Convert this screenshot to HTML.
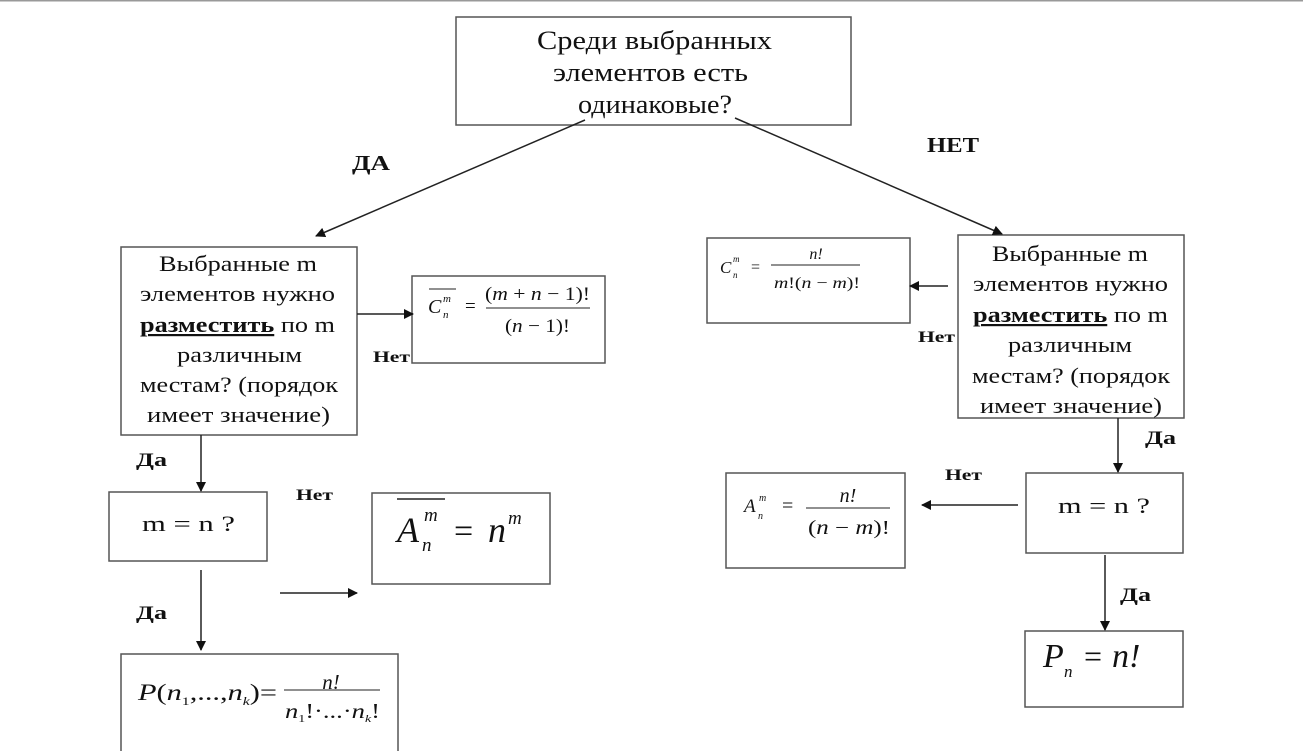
<!DOCTYPE html>
<html><head><meta charset="utf-8"><style>
html,body{margin:0;padding:0;background:#fff;}
svg{display:block;}
text{font-family:"Liberation Serif","DejaVu Serif",serif;fill:#111;}
.it{font-style:italic;}
</style></head><body>
<svg width="1303" height="751" viewBox="0 0 1303 751" xmlns="http://www.w3.org/2000/svg">
<defs>
<marker id="ah" markerWidth="10" markerHeight="10" refX="9" refY="5" orient="auto" markerUnits="userSpaceOnUse">
<path d="M0,0 L10,5 L0,10 z" fill="#111"/>
</marker>
</defs>
<rect x="0" y="0" width="1303" height="1.5" fill="#999"/>
<g fill="none" stroke="#555" stroke-width="1.5">
<rect x="456" y="17" width="395" height="108"/>
<rect x="121" y="247" width="236" height="188"/>
<rect x="412" y="276" width="193" height="87"/>
<rect x="109" y="492" width="158" height="69"/>
<rect x="372" y="493" width="178" height="91"/>
<rect x="121" y="654" width="277" height="110"/>
<rect x="707" y="238" width="203" height="85"/>
<rect x="958" y="235" width="226" height="183"/>
<rect x="1026" y="473" width="157" height="80"/>
<rect x="726" y="473" width="179" height="95"/>
<rect x="1025" y="631" width="158" height="76"/>
</g>
<g stroke="#222" stroke-width="1.5" marker-end="url(#ah)">
<line x1="585" y1="120" x2="316" y2="236"/>
<line x1="735" y1="118" x2="1002" y2="234"/>
<line x1="357" y1="314" x2="413" y2="314"/>
<line x1="201" y1="435" x2="201" y2="491"/>
<line x1="280" y1="593" x2="357" y2="593"/>
<line x1="201" y1="570" x2="201" y2="650"/>
<line x1="948" y1="286" x2="910" y2="286"/>
<line x1="1118" y1="418" x2="1118" y2="472"/>
<line x1="1018" y1="505" x2="922" y2="505"/>
<line x1="1105" y1="555" x2="1105" y2="630"/>
</g>
<g font-size="26" lengthAdjust="spacingAndGlyphs">
<text x="537" y="49" textLength="235" lengthAdjust="spacingAndGlyphs">Среди выбранных</text>
<text x="553" y="81" textLength="195" lengthAdjust="spacingAndGlyphs">элементов есть</text>
<text x="578" y="113" textLength="154" lengthAdjust="spacingAndGlyphs">одинаковые?</text>
</g>
<g font-size="22">
<text x="159" y="271" textLength="158" lengthAdjust="spacingAndGlyphs">Выбранные m</text>
<text x="140" y="301" textLength="195" lengthAdjust="spacingAndGlyphs">элементов нужно</text>
<text x="140" y="332" textLength="195" lengthAdjust="spacingAndGlyphs"><tspan font-weight="bold" text-decoration="underline">разместить</tspan> по m</text>
<text x="177" y="362" textLength="125" lengthAdjust="spacingAndGlyphs">различным</text>
<text x="140" y="392" textLength="198" lengthAdjust="spacingAndGlyphs">местам? (порядок</text>
<text x="147" y="422" textLength="183" lengthAdjust="spacingAndGlyphs">имеет значение)</text>
<text x="992" y="261" textLength="156" lengthAdjust="spacingAndGlyphs">Выбранные m</text>
<text x="973" y="291" textLength="195" lengthAdjust="spacingAndGlyphs">элементов нужно</text>
<text x="973" y="322" textLength="195" lengthAdjust="spacingAndGlyphs"><tspan font-weight="bold" text-decoration="underline">разместить</tspan> по m</text>
<text x="1008" y="352" textLength="124" lengthAdjust="spacingAndGlyphs">различным</text>
<text x="972" y="383" textLength="198" lengthAdjust="spacingAndGlyphs">местам? (порядок</text>
<text x="980" y="413" textLength="182" lengthAdjust="spacingAndGlyphs">имеет значение)</text>
<text x="142" y="531" textLength="93" lengthAdjust="spacingAndGlyphs">m = n ?</text>
<text x="1058" y="513" textLength="92" lengthAdjust="spacingAndGlyphs">m = n ?</text>
</g>
<g font-weight="bold">
<text x="352" y="170" font-size="21" textLength="38" lengthAdjust="spacingAndGlyphs">ДА</text>
<text x="927" y="152" font-size="21" textLength="52" lengthAdjust="spacingAndGlyphs">НЕТ</text>
<text x="373" y="362" font-size="16" textLength="37" lengthAdjust="spacingAndGlyphs">Нет</text>
<text x="136" y="466" font-size="19" textLength="31" lengthAdjust="spacingAndGlyphs">Да</text>
<text x="296" y="500" font-size="16" textLength="37" lengthAdjust="spacingAndGlyphs">Нет</text>
<text x="136" y="619" font-size="19" textLength="31" lengthAdjust="spacingAndGlyphs">Да</text>
<text x="918" y="342" font-size="16" textLength="37" lengthAdjust="spacingAndGlyphs">Нет</text>
<text x="1145" y="444" font-size="19" textLength="31" lengthAdjust="spacingAndGlyphs">Да</text>
<text x="945" y="480" font-size="16" textLength="37" lengthAdjust="spacingAndGlyphs">Нет</text>
<text x="1120" y="601" font-size="19" textLength="31" lengthAdjust="spacingAndGlyphs">Да</text>
</g>
<!-- C bar -->
<g>
<line x1="429" y1="289" x2="456" y2="289" stroke="#222" stroke-width="1"/>
<text x="428" y="313" font-size="20" class="it">C</text>
<text x="443" y="302" font-size="11" class="it">m</text>
<text x="443" y="318" font-size="11" class="it">n</text>
<text x="465" y="312" font-size="19">=</text>
<text x="485" y="300" font-size="19" textLength="105" lengthAdjust="spacingAndGlyphs">(<tspan class="it">m</tspan> + <tspan class="it">n</tspan> − 1)!</text>
<line x1="486" y1="308" x2="590" y2="308" stroke="#222" stroke-width="1"/>
<text x="505" y="332" font-size="19" textLength="65" lengthAdjust="spacingAndGlyphs">(<tspan class="it">n</tspan> − 1)!</text>
</g>
<!-- A bar = n^m -->
<g>
<line x1="397" y1="499" x2="445" y2="499" stroke="#222" stroke-width="1.5"/>
<text x="397" y="542" font-size="36" class="it">A</text>
<text x="424" y="521" font-size="19" class="it">m</text>
<text x="422" y="551" font-size="19" class="it">n</text>
<text x="454" y="542" font-size="34">=</text>
<text x="488" y="542" font-size="36" class="it">n</text>
<text x="508" y="524" font-size="19" class="it">m</text>
</g>
<!-- P multinomial -->
<g>
<text x="138" y="700" font-size="23" textLength="139" lengthAdjust="spacingAndGlyphs"><tspan class="it">P</tspan>(<tspan class="it">n</tspan><tspan font-size="12" dy="5">1</tspan><tspan dy="-5">,...,</tspan><tspan class="it">n</tspan><tspan font-size="12" dy="5" class="it">k</tspan><tspan dy="-5">)=</tspan></text>
<text x="331" y="689" font-size="21" text-anchor="middle" class="it">n!</text>
<line x1="284" y1="690" x2="380" y2="690" stroke="#222" stroke-width="1"/>
<text x="285" y="718" font-size="21" textLength="95" lengthAdjust="spacingAndGlyphs"><tspan class="it">n</tspan><tspan font-size="11" dy="4">1</tspan><tspan dy="-4">!·...·</tspan><tspan class="it">n</tspan><tspan font-size="11" dy="4" class="it">k</tspan><tspan dy="-4">!</tspan></text>
</g>
<!-- C right -->
<g>
<text x="720" y="273" font-size="17" class="it">C</text>
<text x="733" y="262" font-size="9" class="it">m</text>
<text x="733" y="278" font-size="9" class="it">n</text>
<text x="751" y="272" font-size="16">=</text>
<text x="816" y="259" font-size="16" text-anchor="middle" class="it">n!</text>
<line x1="771" y1="265" x2="860" y2="265" stroke="#222" stroke-width="1"/>
<text x="774" y="288" font-size="16" textLength="86" lengthAdjust="spacingAndGlyphs"><tspan class="it">m</tspan>!(<tspan class="it">n</tspan> − <tspan class="it">m</tspan>)!</text>
</g>
<!-- A right -->
<g>
<text x="744" y="512" font-size="19" class="it">A</text>
<text x="759" y="501" font-size="10" class="it">m</text>
<text x="758" y="519" font-size="10" class="it">n</text>
<text x="782" y="512" font-size="20">=</text>
<text x="848" y="502" font-size="20" text-anchor="middle" class="it">n!</text>
<line x1="806" y1="508" x2="890" y2="508" stroke="#222" stroke-width="1"/>
<text x="808" y="534" font-size="20" textLength="82" lengthAdjust="spacingAndGlyphs">(<tspan class="it">n</tspan> − <tspan class="it">m</tspan>)!</text>
</g>
<!-- Pn -->
<g>
<text x="1043" y="667" font-size="34" class="it">P</text>
<text x="1064" y="677" font-size="17" class="it">n</text>
<text x="1084" y="667" font-size="32">=</text>
<text x="1112" y="667" font-size="34" class="it">n!</text>
</g>
</svg>
</body></html>
